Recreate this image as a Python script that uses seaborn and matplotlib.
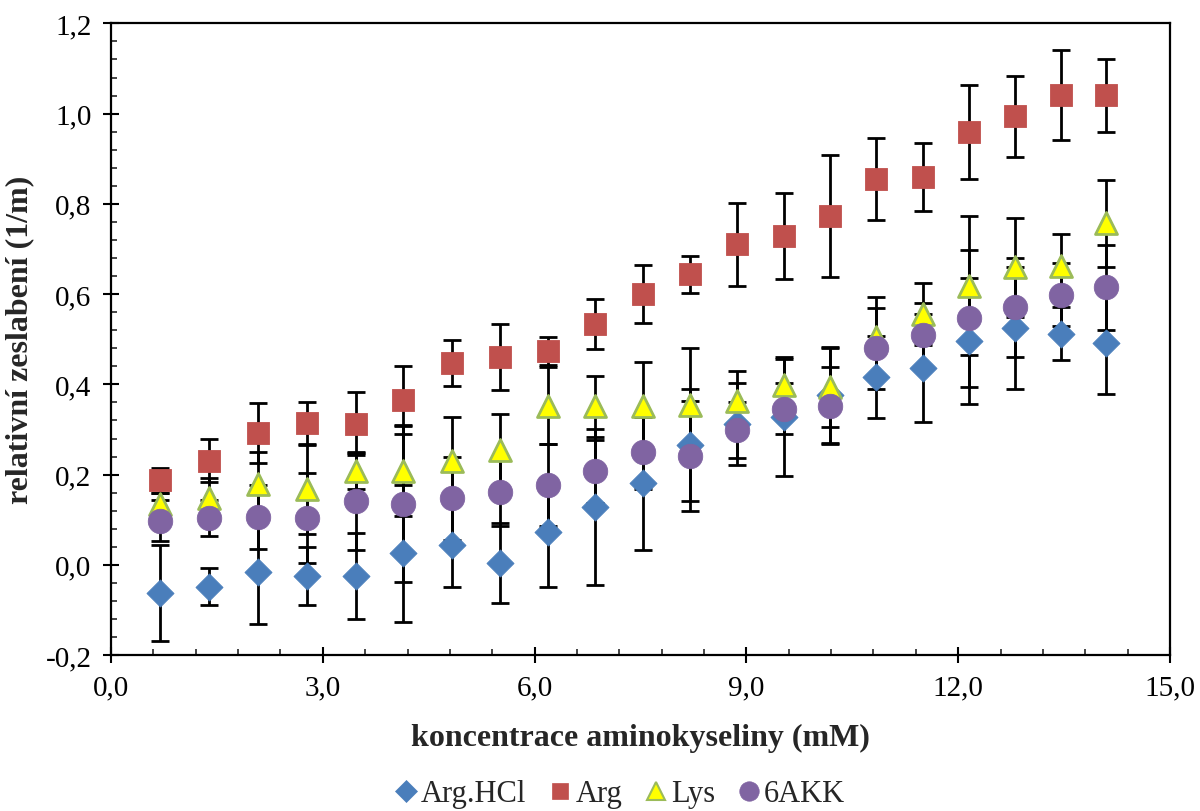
import numpy as np
import pandas as pd
import matplotlib
matplotlib.use("Agg")
import matplotlib.pyplot as plt
from matplotlib.ticker import MultipleLocator, FuncFormatter
from matplotlib.lines import Line2D
import seaborn as sns

# concentrations (mM)
conc = [0.69, 1.39, 2.08, 2.77, 3.47, 4.14, 4.83, 5.51, 6.19, 6.86, 7.53,
        8.20, 8.87, 9.53, 10.19, 10.84, 11.50, 12.16, 12.81, 13.46, 14.10]

arg_hcl = [-0.062, -0.048, -0.016, -0.025, -0.025, 0.026, 0.043, 0.004, 0.072, 0.128, 0.181,
           0.266, 0.312, 0.327, 0.376, 0.417, 0.436, 0.496, 0.524, 0.512, 0.491]
arg_hcl_err = [0.106, 0.040, 0.115, 0.064, 0.095, 0.152, 0.092, 0.089, 0.121, 0.172, 0.147,
               0.124, 0.090, 0.129, 0.105, 0.091, 0.119, 0.139, 0.135, 0.059, 0.112]

arg = [0.187, 0.231, 0.292, 0.314, 0.313, 0.365, 0.447, 0.461, 0.473, 0.534, 0.600,
       0.644, 0.711, 0.729, 0.773, 0.855, 0.859, 0.959, 0.994, 1.041, 1.041]
arg_err = [0.028, 0.047, 0.067, 0.046, 0.070, 0.076, 0.051, 0.073, 0.031, 0.055, 0.065,
           0.041, 0.092, 0.096, 0.135, 0.091, 0.075, 0.105, 0.090, 0.100, 0.081]

lys = [0.135, 0.148, 0.179, 0.167, 0.207, 0.209, 0.231, 0.255, 0.353, 0.351, 0.353,
       0.355, 0.362, 0.399, 0.394, 0.504, 0.556, 0.619, 0.659, 0.663, 0.757]
lys_err = [0.025, 0.044, 0.072, 0.098, 0.040, 0.100, 0.096, 0.079, 0.085, 0.067, 0.096,
           0.126, 0.067, 0.061, 0.089, 0.089, 0.069, 0.153, 0.110, 0.070, 0.096]

akk = [0.098, 0.104, 0.106, 0.103, 0.142, 0.135, 0.148, 0.161, 0.177, 0.207, 0.249,
       0.241, 0.299, 0.346, 0.353, 0.480, 0.510, 0.546, 0.571, 0.599, 0.615]
akk_err = [0.046, 0.040, 0.071, 0.100, 0.109, 0.173, 0.092, 0.074, 0.090, 0.070, 0.080,
           0.121, 0.062, 0.056, 0.085, 0.090, 0.070, 0.152, 0.110, 0.069, 0.094]

series_names = ["Arg.HCl", "Arg", "Lys", "6AKK"]
series_vals = [arg_hcl, arg, lys, akk]
series_errs = [arg_hcl_err, arg_err, lys_err, akk_err]

# styling per series
markers = ["D", "s", "^", "o"]
faces = ["#4a7ebb", "#c0504d", "#ffff00", "#8064a2"]
edges = ["#4a7ebb", "#c0504d", "#9bbb59", "#8064a2"]
sizes = [190, 230, 250, 310]

sns.set_style("white")
plt.rcParams["font.family"] = ["Liberation Serif", "DejaVu Serif"]

fig = plt.figure(figsize=(12, 8.12), dpi=100)
ax = fig.add_axes([0.0925, 0.192, 0.8825, 0.778])

# error bars first, then markers on top
for vals, errs in zip(series_vals, series_errs):
    ax.errorbar(conc, vals, yerr=errs, fmt="none", ecolor="black",
                elinewidth=2.0, capsize=6.5, capthick=2.0, zorder=2)

for i, (name, vals) in enumerate(zip(series_names, series_vals)):
    df = pd.DataFrame({"x": conc, "y": vals})
    sns.scatterplot(data=df, x="x", y="y", marker=markers[i], s=sizes[i],
                    color=faces[i], edgecolor=edges[i],
                    linewidth=2.0 if markers[i] == "^" else 0.6,
                    ax=ax, zorder=3 + i, legend=False)

ax.set_xlim(0, 15)
ax.set_ylim(-0.2, 1.2)
ax.xaxis.set_major_locator(MultipleLocator(3))
ax.xaxis.set_minor_locator(MultipleLocator(0.6))
ax.yaxis.set_major_locator(MultipleLocator(0.2))
ax.yaxis.set_minor_locator(MultipleLocator(0.04))

def comma_fmt(v, pos):
    if abs(v) < 1e-9:
        v = 0.0
    return f"{v:.1f}".replace(".", ",")

ax.xaxis.set_major_formatter(FuncFormatter(comma_fmt))
ax.yaxis.set_major_formatter(FuncFormatter(comma_fmt))

ax.tick_params(axis="both", which="major", direction="inout", length=12, width=1.5,
               labelsize=21, colors="black", bottom=True, left=True, top=False, right=False)
ax.tick_params(axis="x", which="major", pad=8)
ax.tick_params(axis="y", which="major", pad=8)
ax.tick_params(axis="both", which="minor", direction="in", length=4, width=1.2,
               bottom=True, left=True, top=False, right=False)

for sp in ax.spines.values():
    sp.set_visible(True)
    sp.set_color("black")
    sp.set_linewidth(1.6)

ax.set_xlabel("koncentrace aminokyseliny (mM)", fontsize=23, fontweight="bold", labelpad=16)
ax.set_ylabel("relativní zeslabení (1/m)", fontsize=23, fontweight="bold", labelpad=8)

handles = []
for i, name in enumerate(series_names):
    handles.append(Line2D([], [], linestyle="none", marker=markers[i],
                          markerfacecolor=faces[i], markeredgecolor=edges[i],
                          markeredgewidth=1.5 if markers[i] == "^" else 0.5,
                          markersize=[11, 12, 13, 14][i], label=name))
fig.legend(handles=handles, loc="center", bbox_to_anchor=(0.515, 0.021), ncol=4,
           frameon=False, fontsize=22, handletextpad=0.0, columnspacing=0.6,
           handlelength=1.0)

fig.savefig("out.png", dpi=100, facecolor="white")
